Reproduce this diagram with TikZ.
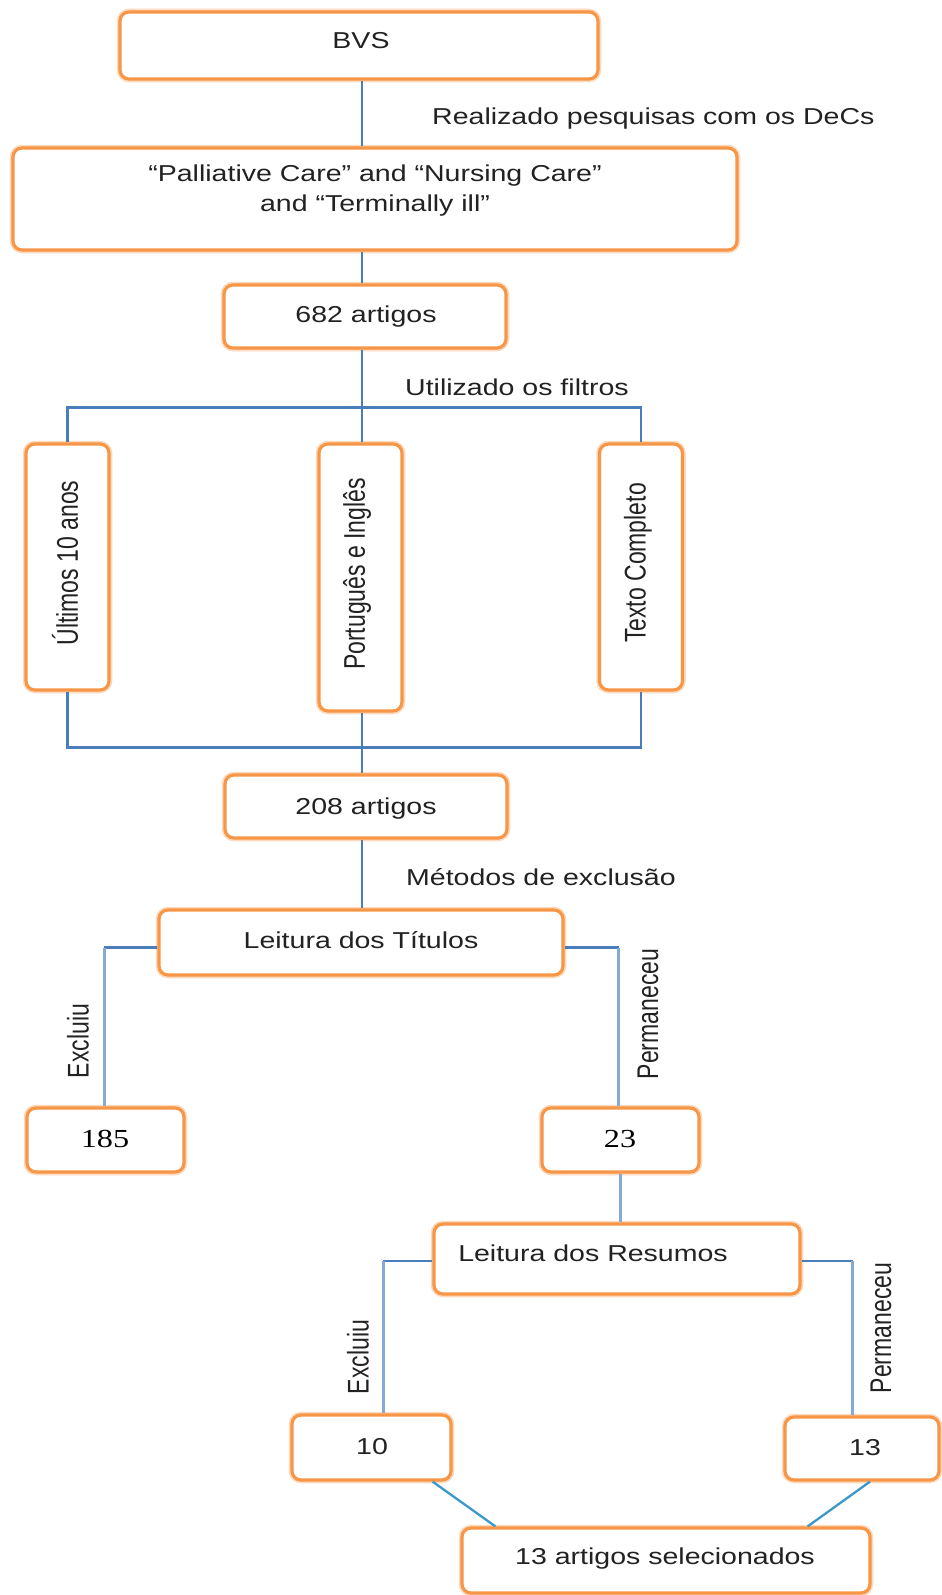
\documentclass[tikz,border=0pt]{standalone}
\usepackage{fontspec}
\usepackage{graphicx}
\setmainfont{Liberation Sans}[FakeStretch=1.24]
\newfontfamily\rotsans{Liberation Sans}
\newfontfamily\serifnum{Liberation Serif}[FakeStretch=1.24]
\definecolor{boxorange}{HTML}{F79646}
\definecolor{linkblue}{HTML}{4A7EBB}
\definecolor{lightlink}{HTML}{86AAD6}
\definecolor{inkgray}{HTML}{222222}
\newcommand\rotlabel[1]{\scalebox{1}[1.3]{\rotsans\fontsize{23}{28}\selectfont #1}}
\begin{document}
\begin{tikzpicture}[x=1pt,y=-1pt,
  box/.style={draw=boxorange, line width=3.2pt, rounded corners=9pt, fill=white, inner sep=0pt,
    preaction={draw=boxorange!35, line width=6.5pt}},
  conn/.style={draw=linkblue, line width=2.3pt},
  lconn/.style={draw=lightlink, line width=2.3pt},
  dconn/.style={draw=linkblue!80!cyan, line width=2.3pt},
  txt/.style={font=\fontsize{23}{30}\selectfont, text=inkgray, inner sep=0pt},
  numtxt/.style={font=\serifnum\fontsize{26}{30}\selectfont, text=black, inner sep=0pt},
  rtxt/.style={rotate=90, text=inkgray, inner sep=0pt}]
\useasboundingbox (0,0) rectangle (942,1595);
\coordinate (spine) at (362,0);

% boxes
\node[box, minimum width=478pt, minimum height=67pt] (bvs) at (359,45.5) {};
\node[box, minimum width=724pt, minimum height=102pt] (pal) at (375,199) {};
\node[box, minimum width=282pt, minimum height=63pt] (six) at (365,316.5) {};
\node[box, minimum width=83pt, minimum height=246pt] (ult) at (67.5,567) {};
\node[box, minimum width=83pt, minimum height=267pt] (por) at (360.5,577.5) {};
\node[box, minimum width=83pt, minimum height=246pt] (tex) at (641,567) {};
\node[box, minimum width=282pt, minimum height=63pt] (two) at (366,806.5) {};
\node[box, minimum width=404pt, minimum height=65pt] (tit) at (361,942.5) {};
\node[box, minimum width=157pt, minimum height=64pt] (exa) at (105.5,1140) {};
\node[box, minimum width=157pt, minimum height=64pt] (rema) at (620.5,1140) {};
\node[box, minimum width=366pt, minimum height=70pt] (res) at (617,1259) {};
\node[box, minimum width=159pt, minimum height=65pt] (exb) at (371.5,1447.5) {};
\node[box, minimum width=154pt, minimum height=63pt] (remb) at (862,1448.5) {};
\node[box, minimum width=408pt, minimum height=65pt] (fin) at (666,1560.5) {};

% connectors
\draw[conn] (spine |- bvs.south) -- (spine |- pal.north);
\draw[conn] (spine |- pal.south) -- (spine |- six.north);
\draw[conn] (spine |- six.south) -- (spine |- por.north);
\draw[conn] (ult.north) -- ++(0,-35) -| (tex.north);
\draw[conn] (spine |- por.south) -- (spine |- two.north);
\draw[conn] (ult.south) -- ++(0,56) -| (tex.south);
\draw[conn] (spine |- two.south) -- (spine |- tit.north);
\draw[conn] ([yshift=-5pt]tit.west) -- ++(-53,0) coordinate (ta);
\draw[lconn] (ta) -- (ta |- exa.north);
\draw[conn] ([yshift=-5pt]tit.east) -- ++(54,0) coordinate (tb);
\draw[lconn] (tb) -- (tb |- rema.north);
\draw[lconn] (rema.south) -- (rema.south |- res.north);
\draw[conn] ([yshift=-2pt]res.west) -- ++(-49,0) coordinate (ra);
\draw[lconn] (ra) -- (ra |- exb.north);
\draw[conn] ([yshift=-2pt]res.east) -- ++(51,0) coordinate (rb);
\draw[lconn] (rb) -- (rb |- remb.north);
\draw[dconn] ([xshift=-20pt]exb.south east) -- ([xshift=35pt]fin.north west);
\draw[dconn] ([xshift=8pt]remb.south) -- ([xshift=-64pt]fin.north east);

% texts
\node[txt] (tbvs) at (361,41) {BVS};
\node[txt, anchor=west] (trea) at (432,119) {Realizado pesquisas com os DeCs};
\node[txt, align=center] (tpal) at (375,191) {“Palliative Care” and “Nursing Care”\\and “Terminally ill”};
\node[txt] (tsix) at (366,317) {682 artigos};
\node[txt, anchor=west] (tuti) at (405,387) {Utilizado os filtros};
\node[rtxt] (tult) at (65,563) {\rotlabel{Últimos 10 anos}};
\node[rtxt] (tpor) at (357,574) {\rotlabel{Português e Inglês}};
\node[rtxt] (ttex) at (638,563) {\rotlabel{Texto Completo}};
\node[txt] (ttwo) at (366,809) {208 artigos};
\node[txt, anchor=west] (tmet) at (406,877) {Métodos de exclusão};
\node[txt] (ttit) at (361,940) {Leitura dos Títulos};
\node[rtxt] (texa) at (78,1041) {\rotlabel{Excluiu}};
\node[rtxt] (trma) at (648,1014) {\rotlabel{Permaneceu}};
\node[numtxt] (nexa) at (105,1139) {185};
\node[numtxt] (nrma) at (620,1139) {23};
\node[txt] (tres) at (593,1253) {Leitura dos Resumos};
\node[rtxt] (texb) at (358,1357) {\rotlabel{Excluiu}};
\node[rtxt] (trmb) at (881,1328) {\rotlabel{Permaneceu}};
\node[txt] (nexb) at (372,1447) {10};
\node[txt] (nrmb) at (865,1448) {13};
\node[txt] (tfin) at (665,1559) {13 artigos selecionados};
\end{tikzpicture}
\end{document}
